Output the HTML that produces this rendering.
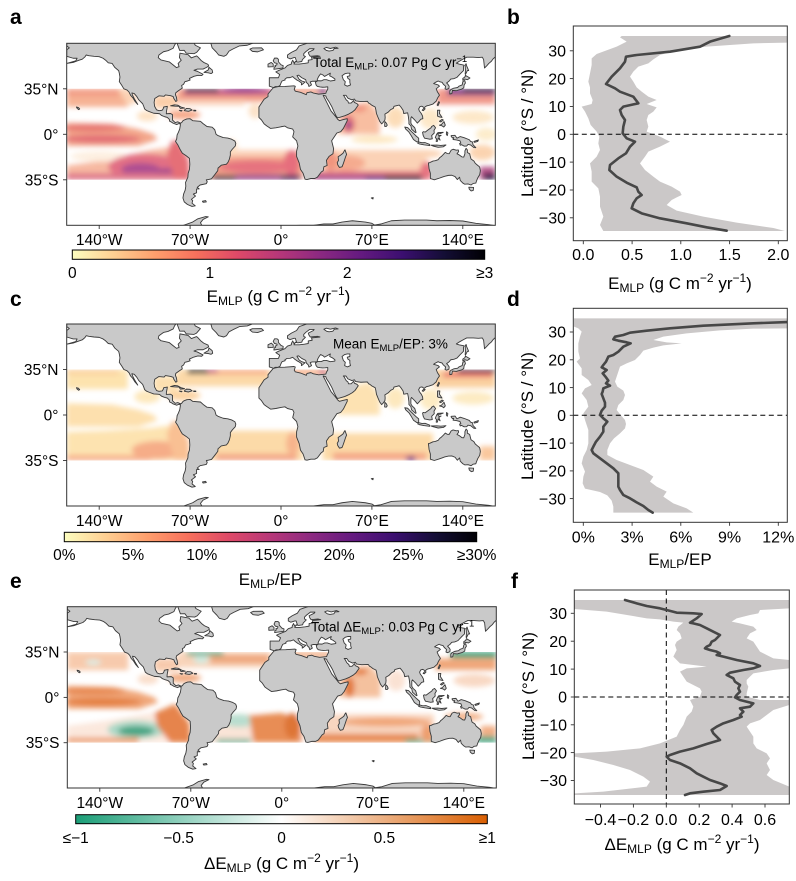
<!DOCTYPE html>
<html><head><meta charset="utf-8"><style>
html,body{margin:0;padding:0;background:#fff;}
svg{display:block;}
text{font-family:"Liberation Sans",Arial,sans-serif;fill:#000;}
</style></head><body>
<svg width="796" height="881" viewBox="0 0 796 881" xmlns="http://www.w3.org/2000/svg" xmlns:xlink="http://www.w3.org/1999/xlink">
<defs>
<filter id="bl" x="-20%" y="-20%" width="140%" height="140%"><feGaussianBlur stdDeviation="2"/></filter>
<clipPath id="band"><rect x="-165" y="-35" width="330" height="70"/></clipPath>
<clipPath id="cb"><rect x="573.3" y="26" width="214" height="214.7"/></clipPath>
<clipPath id="cd"><rect x="573.3" y="308.3" width="214" height="214"/></clipPath>
<clipPath id="cf"><rect x="574.3" y="590" width="215" height="214"/></clipPath>
<linearGradient id="magma" x1="0" x2="1" y1="0" y2="0">
<stop offset="0" stop-color="#fcfdbf"/><stop offset="0.1" stop-color="#fecf92"/><stop offset="0.2" stop-color="#fe9f6d"/><stop offset="0.3" stop-color="#f7705c"/><stop offset="0.4" stop-color="#de4968"/><stop offset="0.5" stop-color="#b73779"/><stop offset="0.6" stop-color="#8c2981"/><stop offset="0.7" stop-color="#641a80"/><stop offset="0.8" stop-color="#3b0f70"/><stop offset="0.9" stop-color="#140e36"/><stop offset="1" stop-color="#000004"/>
</linearGradient>
<linearGradient id="div" x1="0" x2="1" y1="0" y2="0">
<stop offset="0" stop-color="#1b9e77"/><stop offset="0.5" stop-color="#ffffff"/><stop offset="1" stop-color="#d95f02"/>
</linearGradient>
<g id="land" fill="#c9c9c9" stroke="#3a3a3a" stroke-width="0.7" stroke-linejoin="round">
<path fill-rule="evenodd" d="M20,-75 L20,-70 14,-68 12,-65 8,-63 5,-61 5,-59 7,-58 10,-59 11,-59 12,-56 10,-55 9,-57 8,-55 8,-54 5,-53 3,-51 -2,-49 -4,-48 -1,-46 -2,-43.5 -9,-43.5 -9,-39 -9,-37 -6,-36 -5,-36 -6,-35.8 -10,-31 -10,-29 -13,-27 -17,-21 -17,-15 -17,-13 -15,-11 -13,-8 -11,-6.5 -8,-4.5 -4,-5 0,-5.8 3,-6.3 5,-5 7,-4.5 9,-4 10,-2 9.5,0 9,2 12,5 13,9 12,13 12,17 14,22 15,27 17,30 18,33 18.5,34.5 20,34.8 23,34 26,34 28,33 31,29 32.5,28 33,25 35.5,24 35,20 37,17 40,15 40.5,11 39.5,7 39,5 41,2 43,-1 46,-2 48,-4.5 51,-10.5 51,-12 48,-11.3 45,-10.5 43.5,-11.7 43,-12.5 41,-15 38.5,-18 37,-21 35.5,-24 34,-27 32.5,-29.8 32.5,-30 34.5,-29.5 35,-28 37,-25 39,-21.5 41,-17 42.5,-14 43.5,-12.7 45,-13 49,-14.2 52,-15.5 55,-17.2 57,-18.9 59.5,-22.5 58.5,-23.6 56.5,-24.5 56,-26 54,-24 52,-24 51.5,-25.5 50.5,-26.2 50,-26.8 48.5,-29.5 48,-30 50,-30 51.5,-27.8 54.5,-26.5 56.5,-27.1 57.5,-25.7 61.5,-25.2 66.5,-25.4 67.5,-24 68.5,-23.5 70,-22.3 72.5,-21 73,-19 73.5,-16 74.5,-13.5 76,-10 77.5,-8 78.5,-9 80,-11 80.2,-13 80,-15.5 82.5,-17 84.5,-19 86.5,-20 87,-21.5 89,-22 91,-22.5 92.3,-21 94,-18.5 94.5,-16 97.5,-16.5 98,-14 98.5,-10 98.5,-8 100,-6.5 100.5,-4 103.5,-1.3 104,-1.5 103,-5 102,-6 101,-6.9 100,-8.5 100,-12.5 100.5,-13.5 102,-12 103,-11 105,-8.6 106.5,-10.2 107.5,-11.5 109.2,-12 109,-14 108,-16 106.5,-18 106,-19.5 107,-21.3 108.5,-21.6 110.2,-20.5 112,-21.8 114,-22.3 117,-23.3 119.5,-25.5 120.6,-28 122,-30 121.5,-31 120.5,-32.5 119.5,-35 122,-37 121,-38 117.5,-39 119,-40 121,-41 122,-40.5 124,-40 125,-38.5 126.7,-37 126.3,-35 127.5,-34.5 129.3,-35.3 129.5,-37 128.5,-38.5 127.5,-39.5 129.5,-41 130.7,-42.5 133,-42.8 135.5,-43.8 138,-46.5 140.5,-49 140.5,-52 141,-53.2 137,-54 135,-54.7 137,-56 140.5,-58 143,-59.3 148,-59.3 152,-59 155,-59.3 156,-57.5 156.7,-51 158.5,-52.8 160,-54.5 162,-56.2 163.3,-58 165,-59.5 166,-59.5 166,-75 Z
M-5.5,-36 L-2,-36.7 3,-36.8 10,-37.3 11,-36.9 10.2,-34.5 11,-33.2 15,-32.3 19.5,-30.5 20,-32 23,-32.6 25,-31.7 29,-30.9 32,-31.2 34.5,-31.5 35,-33 36,-34.6 36,-36.5 34,-36.3 32,-36.2 30,-36.4 28,-36.8 27,-38 26.5,-40 28,-41 26,-40.8 24,-40.8 22.5,-40.3 23.5,-38 21.5,-36.8 21,-38.5 19.5,-40 19,-42 16,-43.5 13.5,-45.5 12.3,-45.2 14,-42.3 16,-41 18.5,-40.2 16.5,-38.5 15.7,-38 15.8,-39.5 14,-40.8 12.3,-41.7 10.5,-43 9,-44.4 7,-43.6 4.5,-43.5 3,-42.4 3.2,-41.8 0.8,-41 0,-39.5 -0.7,-37.6 -2.2,-36.7 -4.5,-36.7 Z
M28,-41.2 L29,-41.2 31,-41.1 33,-42 35,-42 38,-41 41.5,-41.5 41.5,-42.5 39.5,-44 37.5,-45 38,-47 35,-45.3 33.5,-44.5 32.5,-45.5 30.5,-46.5 29.5,-45.2 28.5,-43.5 27.9,-42 Z
M47,-45 L49,-46.5 51,-47 53,-47 53,-45 51,-44.5 51.5,-43 53,-42 53,-40 53.5,-38 51,-37 49,-38 49.5,-40.5 48,-42 47.5,-43.5 Z
M10,-54 L14,-54 18,-54.5 21,-55 21,-57 24,-57.5 23.5,-59.3 30,-60 28,-60.5 22.5,-60 21.5,-61.5 21,-63 25,-65 25.5,-65.8 22,-65.8 19,-63.5 17.5,-62 17.5,-60.5 18.8,-59.8 16.5,-57.5 16,-56 13,-55.5 11,-56 10.5,-55 Z
M33,-66 L35,-64.5 37,-64 40,-64.5 41,-66 44,-66.2 42,-67 38,-66 35,-66.8 Z"/>
<path d="M-165,-72 L-165,-68 -163,-66.5 -165,-65 -165,-60 -160,-58.5 -157,-58.5 -158,-56.5 -165,-54.5 -160,-55.3 -156,-56.8 -153,-57.8 -151,-59.5 -150,-61 -148,-60.5 -144,-60 -140,-59.7 -137,-58.5 -135,-57 -133,-55 -130,-54.5 -128,-51.5 -125,-49 -124.5,-47 -124,-44 -124.5,-40.5 -122.5,-37.5 -121,-35 -118.5,-34 -117,-32.5 -115.8,-30 -114,-28 -112.5,-25.5 -110.3,-23 -111.5,-25 -113,-27.5 -114.5,-30.5 -114.8,-31.8 -113,-31.3 -111,-29 -109.5,-26.5 -106.5,-23.5 -105.5,-21 -105,-19.5 -103.5,-18.3 -101.5,-17.5 -98,-16.2 -95,-16 -93.5,-15.8 -92,-14.5 -89.5,-13.5 -87.5,-13 -86,-11.5 -85.7,-10 -84.5,-9.5 -83,-8.5 -81,-7.8 -80.3,-7.5 -78.5,-8.3 -77.5,-7.8 -77.4,-8.6 -79.5,-9.6 -81.5,-9 -83.5,-10.9 -83.5,-15 -85,-16 -88.3,-15.8 -88.2,-17.5 -87.5,-21.5 -90.3,-21 -90.7,-19.7 -91.5,-18.5 -94,-18.2 -95.8,-18.8 -97.3,-21.5 -97.7,-24.5 -97.2,-27.5 -94,-29.6 -90,-29.2 -89,-30.3 -85,-29.7 -83,-29 -82.5,-27.5 -81,-25.2 -80.1,-25.8 -80.5,-28.5 -81.3,-30.5 -81,-32 -79,-33.5 -76,-35.5 -76.5,-37.5 -75,-38.5 -74,-40.5 -72,-41 -70,-41.7 -70.5,-43 -67,-44.6 -64,-45.4 -61,-45.2 -60,-46.2 -64.5,-48.5 -67,-49.2 -64.4,-50.2 -60,-50.2 -57.3,-51.5 -55.7,-52.5 -56.2,-53.8 -59.5,-55.3 -61.5,-56.8 -64,-59.5 -65,-60.3 -69,-58.8 -71.5,-61.2 -77.8,-62.4 -78.2,-59 -76.8,-57 -79.2,-54.5 -78.5,-52 -80.5,-51.3 -82.5,-52.9 -86,-55.7 -92.5,-57.2 -94.5,-59 -94,-61 -90.5,-63.5 -87,-64.3 -83,-66.2 -82,-68.5 -81,-70 -85,-72 Z"/>
<path d="M-80,-72 L-80,-70 -78,-64.5 -74.5,-64.6 -73,-62.4 -67,-62 -65,-63 -62,-66.5 -66,-68.5 -68,-72 Z"/>
<path d="M-57,-72 L-54,-70 -53,-66.5 -50,-63.5 -48,-61 -44,-60 -42,-61 -40,-64 -37,-65.6 -32,-68 -26,-68.5 -22,-70 -21,-72 Z"/>
<path d="M-24,-65.5 L-22,-66.4 -15,-66.5 -13.5,-65 -18,-63.4 -22,-63.8 Z"/>
<path d="M-59.3,-47.6 L-56,-49.5 -55.5,-51.6 -53,-49.5 -52.6,-47.5 -53.8,-46.7 -56,-47.3 Z"/>
<path d="M-85,-21.9 L-82,-22.7 -79.5,-22.4 -77,-21 -74.2,-20.2 -77.5,-19.9 -78.5,-21.5 -81.5,-21.6 Z"/>
<path d="M-74.5,-18.5 L-72.8,-19.9 -70,-19.7 -68.4,-18.6 -71.2,-17.7 -74.3,-18.2 Z"/>
<path d="M-78.3,-18.4 L-76.2,-18.2 -76.8,-17.8 Z"/>
<path d="M-67.2,-18.5 L-65.6,-18.4 -65.6,-18 -67.2,-18 Z"/>
<path d="M-157.5,-21 L-156,-20.6 -155,-19.5 -155.8,-19 -157,-20 Z"/>
<path d="M-77.5,-7.8 L-77.5,-7 -78,-4 -79,-1.5 -80,0.5 -80.3,3.5 -81.2,5.5 -79.5,8 -77.5,12 -76,14.5 -73,16.5 -70.5,18.5 -70.2,23 -70.5,27 -71.5,30 -71.7,33 -73.5,37 -73.3,40 -73.8,43 -75,46 -75.5,49 -74.5,52 -72,54 -68.5,55.5 -66,55 -68.5,53 -68,51 -69,50 -65.8,47.5 -67.5,46 -65,45 -65,42 -63,42 -64.5,40.8 -62.3,39 -57.5,38 -56.8,36.5 -57.5,35 -56,34.8 -53.5,34.2 -51,31 -48.7,28 -48.5,26 -46,23.8 -42,23 -40.8,21.5 -39.7,19 -39,16 -39,13.5 -37.5,11.5 -35.2,9 -34.8,7 -35.5,5.2 -38,3.8 -41,2.9 -44.5,2.5 -48.5,1 -50,0 -51,-3.5 -53,-5.5 -57,-6 -60,-8.2 -62,-10 -64.5,-10.2 -68,-10.5 -70,-12 -72.5,-11.8 -74.5,-11 -75.5,-10.4 -76.5,-9 -77.4,-8.6 Z"/>
<path d="M-60.5,51.5 L-58,51 -57.5,52 -60,52.3 Z"/>
<path d="M-5.5,-50 L1.5,-51 1.7,-52.8 0,-53.5 -2,-55.8 -2,-57.7 -3,-58.6 -5,-58.6 -6,-56.5 -5,-55 -3,-54.5 -3.2,-53.4 -4.6,-53 -4.2,-52 -5.2,-51.7 Z"/>
<path d="M-6,-52 L-6,-54 -7.5,-55.3 -10,-54 -10,-51.8 Z"/>
<path d="M130,-31 L131.5,-31.3 132,-33.8 135,-33.5 136.5,-34 139,-34.7 140.7,-35.7 141,-38 142,-39.5 141.5,-41.4 140,-40.5 139.5,-38 137,-37 136,-36 133,-35.5 131,-34.5 130,-33.5 Z"/>
<path d="M140,-41.5 L141.5,-42.5 143.5,-42 145.5,-43.3 142,-45.3 141.5,-44 140,-43 Z"/>
<path d="M142,-46 L143.5,-49 144.5,-49 143,-52.5 142.5,-54.3 141.8,-53 142,-49 141.8,-46.5 Z"/>
<path d="M120.2,-22.5 L121.5,-25.2 122,-24.5 120.9,-22 Z"/>
<path d="M108.7,-18.5 L110,-20 111,-19.6 109.6,-18.2 Z"/>
<path d="M120.5,-14 L120.5,-18.5 122.3,-18.5 122,-16 124,-13 121.5,-13.5 Z"/>
<path d="M122,-7 L123.5,-7.5 125.5,-9.8 126.5,-7 125.3,-5.6 124,-6.5 Z"/>
<path d="M122,-10 L124,-11.5 125,-11 123,-9.5 Z"/>
<path d="M109,-1.5 L109.5,1 110.5,3 114.5,3.8 116.5,3.5 116,1 118,-1 117.8,-3 119,-5 117.5,-6.9 116,-6 115.5,-5 113,-3.2 111,-1.7 109.6,-2 Z"/>
<path d="M95.3,-5.6 L97.5,-5.2 100.3,-2.3 103.7,1 106,3 106,5.8 104.5,5.8 102,4 100.2,0.9 98.5,-1.7 96,-4 Z"/>
<path d="M105.2,6.8 L106,5.9 108.5,6.5 111,6.4 114.5,7.8 114.5,8.7 110,8.1 106.5,7.4 Z"/>
<path d="M115.5,8.4 L120,8.3 123,8.6 127,8.2 125,9.6 121,10 117,9 Z"/>
<path d="M119.5,5.5 L119.7,3.5 118.8,2.5 119.8,0 120.8,-1.3 124.9,-1.5 122.5,-0.5 120.5,-0.5 121.5,1 123.3,0.8 121.5,1.9 122.5,4.5 121,3 120.4,5.5 Z"/>
<path d="M127.5,-2 L128.5,-1 128,1 127.3,0 Z"/>
<path d="M131,1 L134,0.8 135.5,3 138,1.7 141,2.6 145,4.2 146,5.5 147.5,6 147.8,8 150,10.3 148.5,10.2 146,8.2 144,7.8 143,9 141,9.1 139,8 138,8.4 137.5,7 138.5,6.8 137.8,5 135,4.3 132.5,4 133,2.5 132,2.8 131,1.5 Z"/>
<path d="M148.5,5.5 L152,4.3 151.5,5.5 149,6.2 Z"/>
<path d="M113.5,22 L114,26.5 115,30 115,34 118,35 121.5,33.9 124,33 126,32.3 129,31.6 131.5,31.5 134,32.5 135.8,34.8 137.5,33 138,35.5 140,37.5 141.5,38.4 144,38.2 146.3,39 148,37.8 150,37.5 150.5,36 151.5,33.5 153,31 153.5,28 153,25.5 152.8,25 151,23.5 149.5,22.2 148.5,20.5 146.3,19 145.5,16 145.3,15 143.5,14 143.5,12 142.5,10.8 141.6,12.8 141.6,15 140.7,17.5 139.3,17.4 137,15.7 135.5,15 136.8,13.2 136.5,12 135,12.2 132.5,11.5 131,12.2 129.5,14.9 128,14.8 126.5,13.9 125,15.5 123.5,17 122.2,18 121,19.5 118.8,20.3 117,20.6 114.5,21.8 Z"/>
<path d="M144.6,40.7 L148.3,40.9 148,43.2 146.5,43.6 145,42.3 Z"/>
<path d="M49.3,12 L50.5,15.5 49.8,17.1 48,22.5 47,25 45,25.5 43.7,23.5 43.3,21.8 44.3,20 44,17.3 46.3,15.7 47.7,14.6 49,12.2 Z"/>
<path d="M79.8,-6.2 L80,-9.8 81.2,-8.5 81.8,-7 81,-6 Z"/>
<path d="M69.5,49 L71,48.7 70.8,49.8 Z"/>
<path d="M-75,75 L-75,70 -68,67.5 -64,65 -58,63.3 -56,63.5 -60,65.5 -62,68 -61,70 -60,75 Z"/>
<path d="M-5,75 L-5,70.5 5,70.3 15,70 25,70 33,69 40,69 47,67.5 55,66.5 65,67.5 70,68.5 72,69.8 77,69 85,66.5 95,66 105,66 112,66 120,66.5 130,66.3 140,66.7 150,68.5 160,69.5 166,70.5 166,75 Z"/>
</g>
</defs>

<rect width="796" height="881" fill="#fff"/>

<!-- ============ MAP A ============ -->
<svg x="66.7" y="43.3" width="428.6" height="182" viewBox="-165 -70 330 140" preserveAspectRatio="none">
<g clip-path="url(#band)"><g filter="url(#bl)" opacity="0.92">
<rect x="-165" y="-35" width="47" height="14" fill="#f6ad8c"/>
<rect x="-165" y="-35" width="40" height="6" fill="#f1977e"/>
<polygon points="-125,-35 -115,-35 -110,-25 -118,-22" fill="#fbd0b0"/>
<ellipse cx="-103" cy="-14" rx="8" ry="4" fill="#fde0c0"/>
<polygon points="-165,-9 -130,-8 -110,-4 -98,0 -95,4 -110,9 -165,9" fill="#f29e80"/>
<ellipse cx="-145" cy="-5" rx="25" ry="2.8" fill="#e56a66"/>
<ellipse cx="-138" cy="3.5" rx="30" ry="3" fill="#e0606a"/>
<polygon points="-165,24 -135,20 -100,12 -85,10 -80,20 -75,35 -165,35" fill="#f6b39a"/>
<ellipse cx="-140" cy="17" rx="22" ry="4" fill="#fdeede"/>
<ellipse cx="-105" cy="25" rx="28" ry="10" fill="#e0647a"/>
<ellipse cx="-108" cy="27" rx="15" ry="5" fill="#a84089"/>
<ellipse cx="-88" cy="30" rx="8" ry="4" fill="#9c3a86"/>
<rect x="-165" y="30" width="90" height="5" fill="#dc6a80"/>
<polygon points="-84,5 -78,5 -71,20 -70,35 -82,35 -88,15" fill="#e3646c"/>
<rect x="-98" y="-30" width="18" height="10" fill="#fbcba3"/>
<ellipse cx="-75" cy="-15" rx="13" ry="3.5" fill="#f5a07e"/>
<rect x="-80" y="-35" width="72" height="10" fill="#f29a80"/>
<rect x="-78" y="-26" width="50" height="4" fill="#fbd5bd"/>
<rect x="-75" y="-35" width="68" height="5" fill="#cc5280"/>
<rect x="-74" y="-35" width="26" height="3" fill="#1c1030"/>
<ellipse cx="-28" cy="-34" rx="18" ry="2" fill="#8a2c82"/>
<ellipse cx="-20" cy="-18" rx="5" ry="6" fill="#fce0c4"/>
<rect x="-55" y="13" width="72" height="22" fill="#f29a80"/>
<rect x="-48" y="12" width="55" height="5" fill="#fbd0b5"/>
<ellipse cx="-18" cy="25" rx="30" ry="5" fill="#e46874"/>
<ellipse cx="8" cy="22" rx="6" ry="10" fill="#e46272"/>
<rect x="-35" y="31" width="50" height="4" fill="#8e2e82"/>
<rect x="-53" y="31.5" width="18" height="3.5" fill="#281238"/>
<rect x="0" y="31.5" width="14" height="3.5" fill="#3a1450"/>
<ellipse cx="-38" cy="10" rx="4" ry="6" fill="#fcdcbc"/>
<rect x="5" y="-35" width="32" height="4.5" fill="#f2997b"/>
<ellipse cx="32" cy="-33" rx="4" ry="2" fill="#752880"/>
<polygon points="44,-12 55,-22 68,-25.5 76,-15 76,0 44,0" fill="#f8b99a"/>
<ellipse cx="52" cy="-8" rx="5" ry="7" fill="#e26a70"/>
<ellipse cx="52" cy="-7" rx="2.5" ry="3" fill="#8c3084"/>
<ellipse cx="60" cy="-20" rx="6" ry="3" fill="#f08c76"/>
<ellipse cx="88" cy="-13" rx="7" ry="8" fill="#fcdab2"/>
<ellipse cx="72" cy="4" rx="18" ry="3" fill="#fde6bd"/>
<rect x="32" y="12" width="80" height="16" fill="#fbcfb0"/>
<ellipse cx="50" cy="22" rx="15" ry="6" fill="#f5a486"/>
<rect x="25" y="28" width="90" height="7" fill="#e67078"/>
<rect x="25" y="31" width="40" height="4" fill="#a23c84"/>
<rect x="65" y="31.5" width="15" height="3.5" fill="#5a1c7a"/>
<rect x="80" y="31.5" width="30" height="3.5" fill="#1a0c2c"/>
<ellipse cx="38" cy="20" rx="5" ry="8" fill="#ef8c73"/>
<ellipse cx="112" cy="28" rx="5" ry="7" fill="#e56a78"/>
<ellipse cx="112" cy="15" rx="12" ry="3" fill="#fbcfad"/>
<rect x="120" y="-35" width="45" height="12" fill="#f09080"/>
<rect x="128" y="-35" width="37" height="5" fill="#7a2a84"/>
<rect x="140" y="-35" width="25" height="2.8" fill="#140a28"/>
<ellipse cx="115" cy="-12" rx="8" ry="8" fill="#fde6c4"/>
<ellipse cx="148" cy="-13" rx="16" ry="5" fill="#fde6c4"/>
<ellipse cx="158" cy="0" rx="8" ry="5" fill="#fdebc8"/>
<ellipse cx="155" cy="14" rx="10" ry="6" fill="#fbd0aa"/>
<rect x="153" y="25" width="12" height="10" fill="#b04680"/>
<rect x="156" y="30" width="9" height="5" fill="#2b1040"/>
</g></g>
<use xlink:href="#land" href="#land"/>
</svg>
<rect x="66.7" y="43.3" width="428.6" height="182" fill="none" stroke="#333" stroke-width="1"/>
<g stroke="#333" stroke-width="0.9">
<line x1="63" y1="88.8" x2="66.7" y2="88.8"/><line x1="63" y1="134.3" x2="66.7" y2="134.3"/><line x1="63" y1="179.8" x2="66.7" y2="179.8"/>
<line x1="99.2" y1="225.3" x2="99.2" y2="229"/><line x1="190.1" y1="225.3" x2="190.1" y2="229"/><line x1="281" y1="225.3" x2="281" y2="229"/><line x1="371.9" y1="225.3" x2="371.9" y2="229"/><line x1="462.8" y1="225.3" x2="462.8" y2="229"/>
</g>
<g font-size="15.5" text-anchor="end">
<text x="58.5" y="94.3">35°N</text><text x="58.5" y="139.8">0°</text><text x="58.5" y="185.3">35°S</text>
</g>
<g font-size="15.5" text-anchor="middle">
<text x="99.2" y="245">140°W</text><text x="190.1" y="245">70°W</text><text x="281" y="245">0°</text><text x="371.9" y="245">70°E</text><text x="462.8" y="245">140°E</text>
</g>
<text x="313" y="67" font-size="13.5">Total E<tspan font-size="9.5" dy="2.5">MLP</tspan><tspan dy="-2.5">: 0.07 Pg C yr</tspan><tspan font-size="9.5" dy="-5">−1</tspan></text>
<rect x="72.3" y="250" width="412.4" height="9.3" fill="url(#magma)" stroke="#000" stroke-width="1"/>
<g font-size="15.5" text-anchor="middle">
<text x="72.3" y="278">0</text><text x="209.8" y="278">1</text><text x="347.2" y="278">2</text><text x="484.7" y="278">≥3</text>
</g>
<text x="278.5" y="302" font-size="17" text-anchor="middle">E<tspan font-size="12" dy="3">MLP</tspan><tspan dy="-3"> (g C m</tspan><tspan font-size="12" dy="-7">−2</tspan><tspan dy="7"> yr</tspan><tspan font-size="12" dy="-7">−1</tspan><tspan dy="7">)</tspan></text>

<!-- ============ PROFILE B ============ -->
<g clip-path="url(#cb)">
<g transform="translate(520,0) scale(0.333333)">
<polygon fill="#cbc8c8" points="305,108 802,108 802,128 700,130 560,140 470,150 420,165 400,178 385,190 355,200 340,215 330,230 340,245 350,262 365,275 385,290 410,300 380,312 410,322 400,335 385,345 380,360 385,380 380,395 420,410 450,425 420,440 385,455 375,470 360,490 375,510 400,530 420,545 455,560 480,575 485,585 470,592 455,600 440,615 470,632 550,650 650,668 760,684 795,693 250,693 240,675 250,650 240,620 240,590 235,565 215,545 215,515 210,490 230,470 240,450 235,430 238,410 230,395 212,375 205,355 195,335 185,320 215,312 218,300 210,280 210,262 205,245 210,220 215,195 215,175 230,162 290,140 320,125 300,112"/>
</g>
</g>
<line x1="573.3" y1="134.3" x2="787.3" y2="134.3" stroke="#000" stroke-width="1" stroke-dasharray="5,3.5"/>
<g clip-path="url(#cb)">
<g transform="translate(520,0) scale(0.333333)">
<polyline fill="none" stroke="#474747" stroke-width="7.8" stroke-linejoin="round" stroke-linecap="round" points="628,108 570,125 540,140 450,155 350,165 318,170 315,185 300,205 275,230 258,252 285,265 300,275 340,290 355,310 310,320 300,330 305,345 315,360 310,380 308,400 320,415 345,425 330,440 318,460 295,475 270,495 268,510 290,530 320,548 350,562 355,575 365,585 350,595 340,610 335,625 365,640 420,655 500,670 560,682 620,692"/>
</g>
</g>
<rect x="573.3" y="26" width="214" height="214.7" fill="none" stroke="#333" stroke-width="1"/>
<g stroke="#333" stroke-width="0.9">
<line x1="569.8" y1="50.8" x2="573.3" y2="50.8"/><line x1="569.8" y1="78.6" x2="573.3" y2="78.6"/><line x1="569.8" y1="106.5" x2="573.3" y2="106.5"/><line x1="569.8" y1="134.3" x2="573.3" y2="134.3"/><line x1="569.8" y1="162.1" x2="573.3" y2="162.1"/><line x1="569.8" y1="190" x2="573.3" y2="190"/><line x1="569.8" y1="217.8" x2="573.3" y2="217.8"/>
<line x1="583.3" y1="240.7" x2="583.3" y2="244.2"/><line x1="632.1" y1="240.7" x2="632.1" y2="244.2"/><line x1="680.8" y1="240.7" x2="680.8" y2="244.2"/><line x1="729.6" y1="240.7" x2="729.6" y2="244.2"/><line x1="778.3" y1="240.7" x2="778.3" y2="244.2"/>
</g>
<g font-size="16" text-anchor="end">
<text x="566" y="56.5">30</text><text x="566" y="84.3">20</text><text x="566" y="112.2">10</text><text x="566" y="140">0</text><text x="566" y="167.8">−10</text><text x="566" y="195.7">−20</text><text x="566" y="223.5">−30</text>
</g>
<g font-size="16" text-anchor="middle">
<text x="583.3" y="260">0.0</text><text x="632.1" y="260">0.5</text><text x="680.8" y="260">1.0</text><text x="729.6" y="260">1.5</text><text x="778.3" y="260">2.0</text>
</g>
<text transform="translate(533,133) rotate(-90)" font-size="17" text-anchor="middle">Latitude (°S / °N)</text>
<text x="680" y="289" font-size="17" text-anchor="middle">E<tspan font-size="12" dy="3">MLP</tspan><tspan dy="-3"> (g C m</tspan><tspan font-size="12" dy="-7">−2</tspan><tspan dy="7"> yr</tspan><tspan font-size="12" dy="-7">−1</tspan><tspan dy="7">)</tspan></text>

<!-- ============ MAP C ============ -->
<svg x="66.7" y="324" width="428.6" height="182" viewBox="-165 -70 330 140" preserveAspectRatio="none">
<g clip-path="url(#band)"><g filter="url(#bl)">
<rect x="-165" y="-35" width="47" height="15" fill="#fde3ae"/>
<rect x="-165" y="-35" width="40" height="4" fill="#fbd29e"/>
<ellipse cx="-103" cy="-14" rx="10" ry="5" fill="#fde8bc"/>
<polygon points="-165,-9 -130,-8 -110,-4 -98,0 -95,4 -110,9 -165,9" fill="#fde0ae"/>
<polygon points="-165,13 -135,12 -100,10 -85,8 -80,20 -75,35 -165,35" fill="#fde3b0"/>
<ellipse cx="-95" cy="27" rx="20" ry="7" fill="#f6ad88"/>
<ellipse cx="-80" cy="32" rx="3" ry="2" fill="#8c2981"/>
<rect x="-165" y="31" width="65" height="4" fill="#f6ac87"/>
<polygon points="-84,5 -78,5 -71,20 -70,35 -82,35 -88,15" fill="#f9c093"/>
<rect x="-98" y="-30" width="18" height="12" fill="#fde0b0"/>
<ellipse cx="-75" cy="-15" rx="13" ry="4" fill="#fcd3a3"/>
<rect x="-80" y="-35" width="72" height="13" fill="#fcd9a8"/>
<rect x="-57" y="-35" width="47" height="4" fill="#f7b08a"/>
<rect x="-72" y="-35" width="16" height="3.2" fill="#080510"/>
<rect x="-57" y="-35" width="8" height="2.5" fill="#b8427c"/>
<rect x="-55" y="12" width="72" height="23" fill="#fcdaa8"/>
<rect x="-50" y="30" width="62" height="5" fill="#f3a585"/>
<ellipse cx="9" cy="22" rx="5" ry="9" fill="#f7b48c"/>
<rect x="5" y="-35" width="32" height="4.5" fill="#f7b08a"/>
<ellipse cx="32" cy="-33" rx="3" ry="1.5" fill="#b5427c"/>
<polygon points="44,-12 55,-22 68,-25.5 76,-15 76,0 44,0" fill="#fde2b2"/>
<ellipse cx="88" cy="-13" rx="7" ry="8" fill="#fde8be"/>
<rect x="32" y="14" width="85" height="21" fill="#fcdaa7"/>
<rect x="40" y="29" width="72" height="6" fill="#f4a786"/>
<ellipse cx="100" cy="33.5" rx="4" ry="1.8" fill="#6b2080"/>
<rect x="118" y="-35" width="47" height="14" fill="#fad09f"/>
<rect x="125" y="-33" width="38" height="4" fill="#ec7a70"/>
<rect x="136" y="-35" width="29" height="2.5" fill="#2c1240"/>
<ellipse cx="148" cy="-13" rx="16" ry="5" fill="#fdebc3"/>
<rect x="153" y="24" width="12" height="11" fill="#f9c89d"/>
<ellipse cx="115" cy="-12" rx="8" ry="8" fill="#fdebc3"/>
</g></g>
<use xlink:href="#land" href="#land"/>
</svg>
<rect x="66.7" y="324" width="428.6" height="182" fill="none" stroke="#333" stroke-width="1"/>
<g stroke="#333" stroke-width="0.9">
<line x1="63" y1="369.5" x2="66.7" y2="369.5"/><line x1="63" y1="415" x2="66.7" y2="415"/><line x1="63" y1="460.5" x2="66.7" y2="460.5"/>
<line x1="99.2" y1="506" x2="99.2" y2="509.7"/><line x1="190.1" y1="506" x2="190.1" y2="509.7"/><line x1="281" y1="506" x2="281" y2="509.7"/><line x1="371.9" y1="506" x2="371.9" y2="509.7"/><line x1="462.8" y1="506" x2="462.8" y2="509.7"/>
</g>
<g font-size="15.5" text-anchor="end">
<text x="58.5" y="375">35°N</text><text x="58.5" y="420.5">0°</text><text x="58.5" y="466">35°S</text>
</g>
<g font-size="15.5" text-anchor="middle">
<text x="99.2" y="526">140°W</text><text x="190.1" y="526">70°W</text><text x="281" y="526">0°</text><text x="371.9" y="526">70°E</text><text x="462.8" y="526">140°E</text>
</g>
<text x="333" y="348.5" font-size="13.5">Mean E<tspan font-size="9.5" dy="2.5">MLP</tspan><tspan dy="-2.5">/EP: 3%</tspan></text>
<rect x="64.3" y="532.3" width="412.4" height="9.4" fill="url(#magma)" stroke="#000" stroke-width="1"/>
<g font-size="15.5" text-anchor="middle">
<text x="64.3" y="560">0%</text><text x="133" y="560">5%</text><text x="201.8" y="560">10%</text><text x="270.5" y="560">15%</text><text x="339.2" y="560">20%</text><text x="408" y="560">25%</text><text x="476.7" y="560">≥30%</text>
</g>
<text x="270.5" y="585" font-size="17" text-anchor="middle">E<tspan font-size="12" dy="3">MLP</tspan><tspan dy="-3">/EP</tspan></text>

<!-- ============ PROFILE D ============ -->
<g clip-path="url(#cd)">
<g transform="translate(520,290) scale(0.333333)">
<polygon fill="#cbc8c8" points="162,85 802,85 802,115 700,116 600,121 500,130 430,140 400,150 440,157 485,160 430,166 400,173 370,182 360,195 345,210 320,220 300,230 295,245 290,260 285,275 292,290 310,302 315,315 310,330 295,345 290,360 302,375 315,390 318,402 315,415 300,430 282,445 270,460 262,480 262,495 290,510 330,525 370,540 400,560 390,575 410,590 440,605 430,620 460,640 500,655 520,668 280,668 280,650 275,632 262,616 240,606 195,596 188,580 190,560 195,545 185,520 190,500 200,480 205,460 205,440 205,420 200,405 195,390 190,370 205,350 200,330 185,310 195,295 215,285 205,270 185,255 185,235 170,215 180,205 175,185 175,160 180,140 185,125 175,115 162,110"/>
</g>
</g>
<line x1="573.3" y1="415.3" x2="787.3" y2="415.3" stroke="#000" stroke-width="1" stroke-dasharray="5,3.5"/>
<g clip-path="url(#cd)">
<g transform="translate(520,290) scale(0.333333)">
<polyline fill="none" stroke="#474747" stroke-width="7.8" stroke-linejoin="round" stroke-linecap="round" points="830,95 700,100 550,107 450,115 380,122 330,128 310,135 285,140 280,148 295,152 320,157 332,160 310,170 295,185 280,195 265,200 258,215 250,225 245,232 260,240 248,250 258,262 265,272 258,280 270,287 250,295 248,305 245,312 250,325 255,338 255,350 245,362 240,375 250,385 262,395 250,410 250,425 240,440 228,455 220,470 215,480 220,490 240,505 260,520 280,535 295,550 295,565 295,590 300,600 310,615 330,625 350,637 370,648 385,660 398,668"/>
</g>
</g>
<rect x="573.3" y="308.3" width="214" height="214" fill="none" stroke="#333" stroke-width="1"/>
<g stroke="#333" stroke-width="0.9">
<line x1="569.8" y1="332" x2="573.3" y2="332"/><line x1="569.8" y1="359.8" x2="573.3" y2="359.8"/><line x1="569.8" y1="387.6" x2="573.3" y2="387.6"/><line x1="569.8" y1="415.3" x2="573.3" y2="415.3"/><line x1="569.8" y1="443.1" x2="573.3" y2="443.1"/><line x1="569.8" y1="470.9" x2="573.3" y2="470.9"/><line x1="569.8" y1="498.6" x2="573.3" y2="498.6"/>
<line x1="583.3" y1="522.3" x2="583.3" y2="525.8"/><line x1="632.1" y1="522.3" x2="632.1" y2="525.8"/><line x1="680.8" y1="522.3" x2="680.8" y2="525.8"/><line x1="729.6" y1="522.3" x2="729.6" y2="525.8"/><line x1="778.3" y1="522.3" x2="778.3" y2="525.8"/>
</g>
<g font-size="16" text-anchor="end">
<text x="566" y="337.7">30</text><text x="566" y="365.5">20</text><text x="566" y="393.3">10</text><text x="566" y="421">0</text><text x="566" y="448.8">−10</text><text x="566" y="476.6">−20</text><text x="566" y="504.3">−30</text>
</g>
<g font-size="16" text-anchor="middle">
<text x="583.3" y="542.5">0%</text><text x="632.1" y="542.5">3%</text><text x="680.8" y="542.5">6%</text><text x="729.6" y="542.5">9%</text><text x="778.3" y="542.5">12%</text>
</g>
<text transform="translate(533,416) rotate(-90)" font-size="17" text-anchor="middle">Latitude (°S / °N)</text>
<text x="680" y="565" font-size="17" text-anchor="middle">E<tspan font-size="12" dy="3">MLP</tspan><tspan dy="-3">/EP</tspan></text>

<!-- ============ MAP E ============ -->
<svg x="67.3" y="606.7" width="429" height="181.3" viewBox="-165 -70 330 140" preserveAspectRatio="none">
<g clip-path="url(#band)"><g filter="url(#bl)" opacity="0.92">
<rect x="-165" y="-35" width="47" height="14" fill="#f7c6a6"/>
<ellipse cx="-145" cy="-27" rx="6" ry="2" fill="#d8ede4"/>
<ellipse cx="-103" cy="-14" rx="8" ry="4" fill="#f9dcc8"/>
<polygon points="-165,-9 -130,-8 -110,-4 -98,0 -95,4 -110,9 -165,9" fill="#efa070"/>
<ellipse cx="-145" cy="-5" rx="25" ry="2.8" fill="#e57f42"/>
<ellipse cx="-138" cy="3.5" rx="30" ry="3" fill="#e2742f"/>
<polygon points="-165,22 -135,18 -100,12 -85,10 -80,20 -75,35 -165,35" fill="#fbe6da"/>
<ellipse cx="-112" cy="25" rx="22" ry="7" fill="#a5d5c2"/>
<ellipse cx="-112" cy="26" rx="14" ry="4" fill="#3b9f7b"/>
<polygon points="-98,12 -82,5 -71,20 -70,35 -86,35 -96,22" fill="#e47a3c"/>
<rect x="-165" y="31" width="55" height="4" fill="#eb9560"/>
<rect x="-98" y="-30" width="18" height="10" fill="#f7c6a6"/>
<ellipse cx="-75" cy="-15" rx="13" ry="3.5" fill="#f0a578"/>
<rect x="-80" y="-35" width="72" height="12" fill="#f8d0b4"/>
<rect x="-55" y="-33" width="45" height="7" fill="#eea274"/>
<rect x="-73" y="-35" width="28" height="2.8" fill="#279c76"/>
<ellipse cx="-62" cy="-29" rx="6" ry="3" fill="#cfe9de"/>
<rect x="-55" y="13" width="72" height="22" fill="#fae2d4"/>
<ellipse cx="-33" cy="18" rx="13" ry="5" fill="#b3dbcb"/>
<polygon points="-25,14 0,12 15,18 15,35 -22,35" fill="#e68446"/>
<ellipse cx="8" cy="22" rx="6" ry="10" fill="#dc6a26"/>
<rect x="-50" y="32.3" width="26" height="2.7" fill="#2c9e78"/>
<rect x="5" y="-35" width="32" height="4.5" fill="#f0a97f"/>
<polygon points="44,-12 55,-22 68,-25.5 76,-15 76,0 44,0" fill="#f4bc96"/>
<ellipse cx="52" cy="-8" rx="4" ry="8" fill="#e0702e"/>
<ellipse cx="60" cy="-20" rx="6" ry="3" fill="#e47c3c"/>
<ellipse cx="88" cy="-13" rx="7" ry="8" fill="#fae0d0"/>
<rect x="32" y="13" width="85" height="22" fill="#f8d3bb"/>
<ellipse cx="80" cy="19" rx="35" ry="3.5" fill="#ef9f6c"/>
<rect x="25" y="28" width="80" height="7" fill="#e68448"/>
<rect x="95" y="32.3" width="25" height="2.7" fill="#35a17c"/>
<ellipse cx="112" cy="28" rx="5" ry="7" fill="#ec9662"/>
<rect x="118" y="-30" width="47" height="9" fill="#efa070"/>
<rect x="130" y="-35" width="35" height="4.8" fill="#20986e"/>
<ellipse cx="140" cy="15" rx="15" ry="3" fill="#f1aa7e"/>
<ellipse cx="148" cy="-13" rx="16" ry="5" fill="#f8d5bf"/>
<rect x="150" y="30" width="15" height="5" fill="#37a17c"/>
<rect x="153" y="22" width="12" height="8" fill="#f0a87c"/>
</g></g>
<use xlink:href="#land" href="#land"/>
</svg>
<rect x="67.3" y="606.7" width="429" height="181.3" fill="none" stroke="#333" stroke-width="1"/>
<g stroke="#333" stroke-width="0.9">
<line x1="63.6" y1="652" x2="67.3" y2="652"/><line x1="63.6" y1="697.4" x2="67.3" y2="697.4"/><line x1="63.6" y1="742.7" x2="67.3" y2="742.7"/>
<line x1="99.8" y1="788" x2="99.8" y2="791.7"/><line x1="190.8" y1="788" x2="190.8" y2="791.7"/><line x1="281.8" y1="788" x2="281.8" y2="791.7"/><line x1="372.8" y1="788" x2="372.8" y2="791.7"/><line x1="463.8" y1="788" x2="463.8" y2="791.7"/>
</g>
<g font-size="15.5" text-anchor="end">
<text x="59.5" y="657.5">35°N</text><text x="59.5" y="703">0°</text><text x="59.5" y="748.2">35°S</text>
</g>
<g font-size="15.5" text-anchor="middle">
<text x="99.8" y="808">140°W</text><text x="190.8" y="808">70°W</text><text x="281.8" y="808">0°</text><text x="372.8" y="808">70°E</text><text x="463.8" y="808">140°E</text>
</g>
<text x="311" y="631.5" font-size="13.5">Total ΔE<tspan font-size="9.5" dy="2.5">MLP</tspan><tspan dy="-2.5">: 0.03 Pg C yr</tspan><tspan font-size="9.5" dy="-5">−1</tspan></text>
<rect x="75.7" y="814.7" width="411.6" height="9" fill="url(#div)" stroke="#000" stroke-width="1"/>
<g font-size="15.5" text-anchor="middle">
<text x="75.7" y="843">≤−1</text><text x="178.6" y="843">−0.5</text><text x="281.5" y="843">0</text><text x="384.4" y="843">0.5</text><text x="487.3" y="843">≥1</text>
</g>
<text x="281.5" y="869" font-size="17" text-anchor="middle">ΔE<tspan font-size="12" dy="3">MLP</tspan><tspan dy="-3"> (g C m</tspan><tspan font-size="12" dy="-7">−2</tspan><tspan dy="7"> yr</tspan><tspan font-size="12" dy="-7">−1</tspan><tspan dy="7">)</tspan></text>

<!-- ============ PROFILE F ============ -->
<g clip-path="url(#cf)">
<g transform="translate(520,580) scale(0.333333)">
<polygon fill="#cbc8c8" points="163,60 808,60 808,85 720,90 715,100 690,105 650,115 635,125 660,130 700,140 710,150 690,160 680,175 700,185 710,200 720,215 740,225 760,235 808,240 808,265 760,270 700,280 690,290 680,300 680,310 685,320 680,340 680,350 720,360 808,360 808,375 760,390 740,405 720,420 690,430 680,440 690,455 700,470 700,490 710,505 740,520 750,535 740,550 750,570 740,585 760,600 808,620 808,645 163,645 163,640 250,635 380,620 390,605 370,590 330,570 280,555 220,540 163,530 163,520 260,515 360,505 420,490 470,470 480,450 490,435 500,410 515,395 520,380 510,360 540,350 545,335 540,325 520,315 500,305 490,290 480,275 500,265 560,260 480,250 460,230 470,210 465,195 470,185 485,175 480,160 470,150 475,140 490,128 460,125 420,118 380,115 260,95 163,87"/>
</g>
</g>
<line x1="574.3" y1="697" x2="789.3" y2="697" stroke="#000" stroke-width="1" stroke-dasharray="5,3.5"/>
<line x1="666.3" y1="590" x2="666.3" y2="804" stroke="#000" stroke-width="1" stroke-dasharray="5,3.5"/>
<g clip-path="url(#cf)">
<g transform="translate(520,580) scale(0.333333)">
<polyline fill="none" stroke="#474747" stroke-width="7.8" stroke-linejoin="round" stroke-linecap="round" points="315,60 350,70 380,78 420,85 440,90 470,98 520,100 545,102 530,115 510,128 520,130 540,135 560,145 580,155 600,165 585,180 575,185 570,195 560,200 555,205 570,210 590,215 600,220 590,225 610,230 650,240 700,250 720,258 700,265 670,270 630,278 620,285 640,295 645,305 660,315 655,325 660,335 650,345 645,352 660,360 700,370 690,380 660,385 670,395 660,405 665,410 640,420 610,430 590,440 575,450 580,460 590,470 600,480 560,492 520,505 480,515 450,525 440,530 450,540 480,550 510,565 530,580 550,590 570,600 600,610 620,618 600,630 550,635 510,640 495,645"/>
</g>
</g>
<rect x="574.3" y="590" width="215" height="214" fill="none" stroke="#333" stroke-width="1"/>
<g stroke="#333" stroke-width="0.9">
<line x1="570.8" y1="613.3" x2="574.3" y2="613.3"/><line x1="570.8" y1="641.2" x2="574.3" y2="641.2"/><line x1="570.8" y1="669.1" x2="574.3" y2="669.1"/><line x1="570.8" y1="697" x2="574.3" y2="697"/><line x1="570.8" y1="724.8" x2="574.3" y2="724.8"/><line x1="570.8" y1="752.6" x2="574.3" y2="752.6"/><line x1="570.8" y1="780.5" x2="574.3" y2="780.5"/>
<line x1="600.5" y1="804" x2="600.5" y2="807.5"/><line x1="633.4" y1="804" x2="633.4" y2="807.5"/><line x1="666.3" y1="804" x2="666.3" y2="807.5"/><line x1="699.2" y1="804" x2="699.2" y2="807.5"/><line x1="732.1" y1="804" x2="732.1" y2="807.5"/><line x1="765" y1="804" x2="765" y2="807.5"/>
</g>
<g font-size="16" text-anchor="end">
<text x="567" y="619">30</text><text x="567" y="646.9">20</text><text x="567" y="674.8">10</text><text x="567" y="702.7">0</text><text x="567" y="730.5">−10</text><text x="567" y="758.3">−20</text><text x="567" y="786.2">−30</text>
</g>
<g font-size="16" text-anchor="middle">
<text x="600.5" y="825">−0.4</text><text x="633.4" y="825">−0.2</text><text x="666.3" y="825">0.0</text><text x="699.2" y="825">0.2</text><text x="732.1" y="825">0.4</text><text x="765" y="825">0.6</text>
</g>
<text transform="translate(534,696) rotate(-90)" font-size="17" text-anchor="middle">Latitude (°S / °N)</text>
<text x="682" y="850" font-size="17" text-anchor="middle">ΔE<tspan font-size="12" dy="3">MLP</tspan><tspan dy="-3"> (g C m</tspan><tspan font-size="12" dy="-7">−2</tspan><tspan dy="7"> yr</tspan><tspan font-size="12" dy="-7">−1</tspan><tspan dy="7">)</tspan></text>

<!-- panel letters -->
<g font-size="21" font-weight="bold">
<text x="10" y="24">a</text><text x="507" y="24">b</text>
<text x="10" y="306">c</text><text x="507" y="306">d</text>
<text x="10" y="588">e</text><text x="511" y="588">f</text>
</g>
</svg>
</body></html>
